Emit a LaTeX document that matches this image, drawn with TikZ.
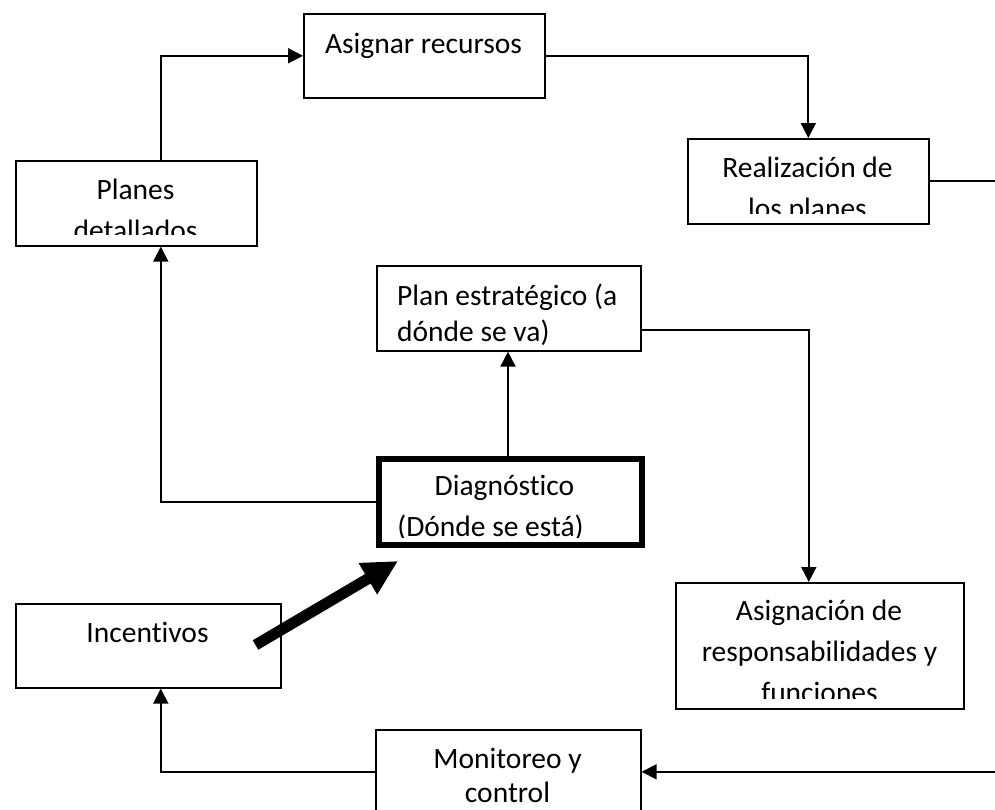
\documentclass[tikz,border=0pt]{standalone}
\usepackage{fontspec}
\setmainfont{Carlito}[Ligatures=NoCommon, RawFeature=-liga]
\usetikzlibrary{arrows.meta}
\begin{document}
\begin{tikzpicture}[x=1pt,y=-1pt,
  box/.style={draw, line width=1.6pt, rectangle, inner sep=0pt, anchor=north west},
  thickbox/.style={box, line width=6pt},
  txt/.style={font=\fontsize{29.5}{41}\selectfont, inner sep=0pt, anchor=base},
  ltxt/.style={txt, anchor=base west},
  conn/.style={line width=1.8pt, -{Triangle[length=15pt,width=15pt]}},
  plainconn/.style={line width=1.8pt},
  bigarrow/.style={line width=11pt, -{Triangle[length=35pt,width=34pt]}}]
\useasboundingbox (0,0) rectangle (995,809);
\coordinate (rEdge) at (995,0);

% boxes
\node[box, minimum width=241pt, minimum height=84pt] (asig) at (303,13) {};
\node[box, minimum width=241pt, minimum height=85pt] (planes) at (15,160) {};
\node[box, minimum width=241pt, minimum height=85pt] (real) at (687,138) {};
\node[box, minimum width=264pt, minimum height=85pt] (plan) at (376,265) {};
\node[thickbox, minimum width=263pt, minimum height=86pt] (diag) at (376,456) {};
\node[box, minimum width=265pt, minimum height=84pt] (inc) at (15,603) {};
\node[box, minimum width=288pt, minimum height=126pt] (asigf) at (675,582) {};
\node[box, minimum width=265pt, minimum height=84pt] (mon) at (375,729) {};

% texts
\begin{scope}
\clip (asig.north west) rectangle (asig.south east);
\node[txt] (asigT) at (423.5,53) {Asignar recursos};
\end{scope}
\begin{scope}
\clip (planes.north west) rectangle ([yshift=12pt]planes.south east);
\node[txt] (planesT1) at (135.5,199) {Planes};
\node[txt] (planesT2) at (135.5,240) {detallados};
\end{scope}
\begin{scope}
\clip (real.north west) rectangle ([yshift=11pt]real.south east);
\node[txt] (realT1) at (807.5,177) {Realización de};
\node[txt] (realT2) at (807.5,218) {los planes};
\end{scope}
\begin{scope}
\clip (plan.north west) rectangle (plan.south east);
\node[ltxt] (planT1) at (397,305) {Plan estratégico (a};
\node[ltxt] (planT2) at (397,341) {dónde se va)};
\end{scope}
\begin{scope}
\clip (diag.north west) rectangle ([yshift=11pt]diag.south east);
\node[txt] (diagT1) at (504.5,495) {Diagnóstico};
\node[txt] (diagT2) at (490.5,536) {(Dónde se está)};
\end{scope}
\begin{scope}
\clip (inc.north west) rectangle (inc.south east);
\node[txt] (incT) at (147.5,642) {Incentivos};
\end{scope}
\begin{scope}
\clip (asigf.north west) rectangle ([yshift=11pt]asigf.south east);
\node[txt] (asigfT1) at (819,620) {Asignación de};
\node[txt] (asigfT2) at (819.5,661) {responsabilidades y};
\node[txt] (asigfT3) at (819.5,702) {funciones};
\end{scope}
\begin{scope}
\clip (mon.north west) rectangle (mon.south east);
\node[txt] (monT1) at (507.5,768) {Monitoreo y};
\node[txt] (monT2) at (507.5,802) {control};
\end{scope}

% connectors
\draw[conn] ([xshift=24.5pt]planes.north) |- (asig.west);
\draw[conn] (asig.east) -| (real.north);
\draw[plainconn] (real.east) -- (real.east -| rEdge);
\draw[conn] ([yshift=-21.5pt]plan.east) -| ([xshift=-11pt]asigf.north);
\draw[conn] ([xshift=-2.5pt]diag.north) -- ([xshift=-2.5pt]diag.north |- plan.south);
\draw[conn] (diag.west) -| ([xshift=24.5pt]planes.south);
\draw[conn] (mon.west) -| ([xshift=12.5pt]inc.south);
\draw[conn] (mon.east -| rEdge) -- (mon.east);

% thick arrow
\coordinate (tA) at (255.5,645);
\coordinate (tB) at (398,561);
\draw[bigarrow] (tA) -- (tB);
\end{tikzpicture}
\end{document}
